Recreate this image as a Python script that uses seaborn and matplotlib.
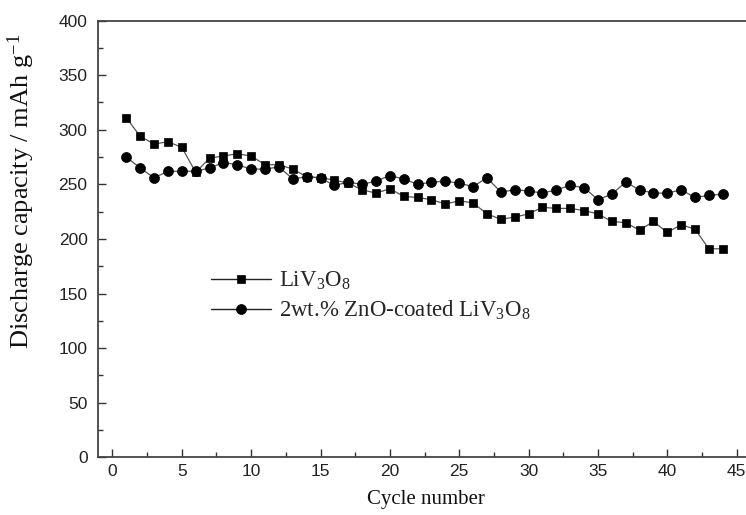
import matplotlib
matplotlib.use("Agg")
import matplotlib.pyplot as plt
import seaborn as sns
from matplotlib.ticker import MultipleLocator

# Cycle index and discharge capacities (mAh/g)
cycles = [1, 2, 3, 4, 5, 6, 7, 8, 9, 10, 11, 12, 13, 14, 15, 16, 17, 18, 19, 20, 21, 22,
          23, 24, 25, 26, 27, 28, 29, 30, 31, 32, 33, 34, 35, 36, 37, 38, 39, 40, 41, 42, 43, 44]
liv3o8 = [311, 294, 287, 289, 284, 261, 274, 276, 278, 276, 268, 268, 264, 257, 256, 254,
          251, 245, 242, 246, 239, 238, 236, 232, 235, 233, 223, 218, 220, 223, 229, 228,
          228, 226, 223, 216, 215, 208, 216, 206, 213, 209, 191, 191]
zno_coated = [275, 265, 256, 262, 262, 262, 265, 270, 268, 264, 264, 266, 255, 257, 256, 249,
              252, 250, 253, 258, 255, 250, 252, 253, 251, 248, 256, 243, 245, 244, 242, 245,
              249, 247, 236, 241, 252, 245, 242, 242, 245, 238, 240, 241]

series_labels = [r"LiV$_{\mathregular{3}}$O$_{\mathregular{8}}$",
                 r"2wt.% ZnO-coated LiV$_{\mathregular{3}}$O$_{\mathregular{8}}$"]
x_ticks = [0, 5, 10, 15, 20, 25, 30, 35, 40, 45]
y_ticks = [0, 50, 100, 150, 200, 250, 300, 350, 400]

sns.set_style("ticks")
plt.rcParams["font.family"] = ["Liberation Serif", "DejaVu Serif"]
plt.rcParams["mathtext.fontset"] = "custom"
plt.rcParams["mathtext.rm"] = "Liberation Serif"
plt.rcParams["mathtext.it"] = "Liberation Serif:italic"
plt.rcParams["mathtext.bf"] = "Liberation Serif:bold"

fig = plt.figure(figsize=(7.46, 5.15), dpi=100)
ax = fig.add_axes([0.1314, 0.112, 0.8746, 0.848])

line_kw = dict(color="#555555", linewidth=0.9, markerfacecolor="black",
               markeredgecolor="black", markeredgewidth=0.5)
sns.lineplot(x=cycles, y=liv3o8, ax=ax, marker="s", markersize=6.4,
             label=series_labels[0], **line_kw)
sns.lineplot(x=cycles, y=zno_coated, ax=ax, marker="o", markersize=7.2,
             label=series_labels[1], **line_kw)

ax.set_xlim(-1.04, 46)
ax.set_ylim(0, 400)
ax.set_xticks(x_ticks)
ax.set_yticks(y_ticks)
ax.xaxis.set_minor_locator(MultipleLocator(2.5))
ax.yaxis.set_minor_locator(MultipleLocator(25))

ax.tick_params(which="major", direction="in", length=5.8, width=1.0, color="#333333",
               labelsize=12.5, labelfontfamily="Liberation Sans", labelcolor="#222222")
ax.tick_params(axis="y", which="major", pad=7.5)
ax.tick_params(axis="x", which="major", pad=4.5)
ax.tick_params(which="minor", direction="in", length=3.4, width=1.0, color="#333333")

for side in ["left", "bottom", "top", "right"]:
    ax.spines[side].set_visible(True)
    ax.spines[side].set_linewidth(1.3)
    ax.spines[side].set_color("#444444")

ax.set_xlabel("Cycle number", fontsize=15, color="#111111")
ax.set_ylabel(r"Discharge capacity / mAh g$^{\mathregular{-1}}$", fontsize=19, color="#111111")
ax.xaxis.set_label_coords(0.503, -0.074)
ax.yaxis.set_label_coords(-0.093, 0.610)

leg = ax.legend(loc="upper left", bbox_to_anchor=(211 / 746, 1 - 270 / 515),
                bbox_transform=fig.transFigure, frameon=False, fontsize=16.5,
                handlelength=2.6, handletextpad=0.35, labelspacing=0.3,
                borderpad=0, borderaxespad=0, numpoints=1)
for h in leg.get_lines():
    h.set_color("#222222")
    h.set_linewidth(1.0)

fig.savefig("out.png", dpi=100)
